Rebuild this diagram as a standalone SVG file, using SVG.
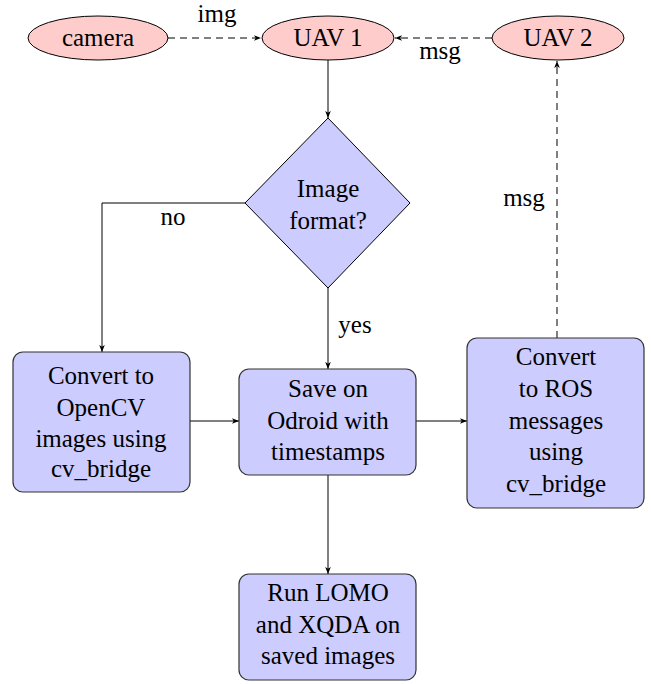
<svg xmlns="http://www.w3.org/2000/svg" width="651" height="684" viewBox="0 0 651 684">
<style>
text{font-family:'Liberation Serif','Tinos','Nimbus Roman','Nimbus Roman No9 L','Times New Roman','Times','FreeSerif','DejaVu Serif','Noto Serif',serif;font-size:25px;fill:#000;text-anchor:middle}
.ell{fill:#ffcccc;stroke:#000;stroke-width:1}
.box{fill:#ccccff;stroke:#333;stroke-width:1.2}
.ln{fill:none;stroke:#000;stroke-width:1}
.dash{stroke-dasharray:7,5}
</style>
<defs>
<marker id="ah" viewBox="0 0 10 10" refX="10" refY="5" markerWidth="7" markerHeight="7" markerUnits="userSpaceOnUse" orient="auto">
<path d="M0,1 L10,5 L0,9 L2.5,5 Z" fill="#000"/>
</marker>
</defs>
<rect width="651" height="684" fill="#fff"/>
<g id="connectors">
<line class="ln dash" x1="168" y1="38" x2="261" y2="38" marker-end="url(#ah)"/>
<line class="ln dash" x1="492" y1="38" x2="395" y2="38" marker-end="url(#ah)"/>
<line class="ln" x1="328" y1="60" x2="328" y2="118" marker-end="url(#ah)"/>
<polyline class="ln" points="245,203 102,203 102,352" marker-end="url(#ah)"/>
<line class="ln" x1="328" y1="288" x2="328" y2="369" marker-end="url(#ah)"/>
<line class="ln" x1="190" y1="421" x2="239" y2="421" marker-end="url(#ah)"/>
<line class="ln" x1="416" y1="421" x2="467" y2="421" marker-end="url(#ah)"/>
<line class="ln" x1="328" y1="475" x2="328" y2="574" marker-end="url(#ah)"/>
<line class="ln dash" x1="557" y1="338" x2="557" y2="61" marker-end="url(#ah)"/>
<text x="217" y="22">img</text>
<text x="440" y="59">msg</text>
<text x="173" y="225">no</text>
<text x="355" y="333">yes</text>
<text x="524" y="206">msg</text>
</g>
<g id="camera">
<ellipse class="ell" cx="98" cy="38" rx="70" ry="22"/>
<text x="98" y="46">camera</text>
</g>
<g id="uav1">
<ellipse class="ell" cx="328" cy="38" rx="66" ry="22"/>
<text x="328" y="46">UAV 1</text>
</g>
<g id="uav2">
<ellipse class="ell" cx="558" cy="38" rx="66" ry="22"/>
<text x="558" y="46">UAV 2</text>
</g>
<g id="decision">
<polygon points="328,118 410,203 328,288 245,203" fill="#ccccff" stroke="#000" stroke-width="1"/>
<text x="328" y="197">Image</text>
<text x="328" y="229">format?</text>
</g>
<g id="convert-opencv">
<rect class="box" x="13" y="352" width="177" height="140" rx="10"/>
<text x="101" y="384">Convert to</text>
<text x="101" y="416">OpenCV</text>
<text x="101" y="447">images using</text>
<text x="101" y="477">cv_bridge</text>
</g>
<g id="save">
<rect class="box" x="239" y="369" width="177" height="106" rx="10"/>
<text x="328" y="397">Save on</text>
<text x="328" y="429">Odroid with</text>
<text x="328" y="460">timestamps</text>
</g>
<g id="convert-ros">
<rect class="box" x="467" y="338" width="177" height="170" rx="10"/>
<text x="556" y="365">Convert</text>
<text x="556" y="397">to ROS</text>
<text x="556" y="429">messages</text>
<text x="556" y="460">using</text>
<text x="556" y="492">cv_bridge</text>
</g>
<g id="run">
<rect class="box" x="239" y="574" width="177" height="106" rx="10"/>
<text x="328" y="601">Run LOMO</text>
<text x="328" y="633">and XQDA on</text>
<text x="328" y="664">saved images</text>
</g>
</svg>
